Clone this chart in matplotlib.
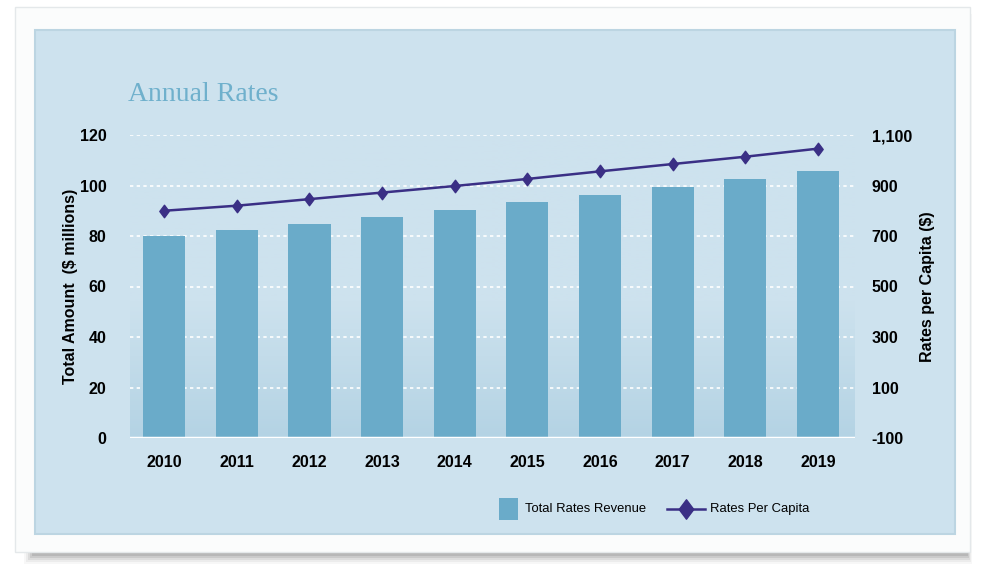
import matplotlib.pyplot as plt
import numpy as np
from matplotlib.lines import Line2D
from matplotlib.patches import Rectangle
from matplotlib.path import Path

years = ["2010", "2011", "2012", "2013", "2014", "2015", "2016", "2017", "2018", "2019"]
total_revenue = [80.0, 82.4, 84.8, 87.5, 90.3, 93.5, 96.2, 99.4, 102.6, 105.7]
per_capita = [800, 820, 846, 872, 898, 926, 956, 985, 1014, 1046]

left_ticks = [0, 20, 40, 60, 80, 100, 120]
right_ticks = [-100, 100, 300, 500, 700, 900, 1100]
right_labels = ["-100", "100", "300", "500", "700", "900", "1,100"]

PANEL = "#cde2ee"
BAR = "#6aabc9"
LINE = "#3a2f85"
TITLE = "#6fb0cc"

# slightly tall diamond
DIAMOND = Path([(0, 1), (0.75, 0), (0, -1), (-0.75, 0), (0, 1)],
               [Path.MOVETO, Path.LINETO, Path.LINETO, Path.LINETO, Path.CLOSEPOLY])

plt.rcParams["font.family"] = ["Liberation Sans", "DejaVu Sans"]

W, H = 982, 569
fig = plt.figure(figsize=(W / 100, H / 100), dpi=100)
fig.patch.set_facecolor("white")


def px(x0, y0, x1, y1):
    # pixel box (top-left origin) -> figure fraction rect
    return x0 / W, 1 - y1 / H, (x1 - x0) / W, (y1 - y0) / H


def fx(x):
    return x / W


def fy(y):
    return 1 - y / H


# card shadow and card
for i, a in enumerate([0.05, 0.08, 0.12, 0.16, 0.2]):
    x, y, w, h = px(24 + i * 2, 14 + i * 2, 972 - i, 564 - i * 2)
    fig.patches.append(Rectangle((x, y), w, h, transform=fig.transFigure,
                                 facecolor="#6e6e6e", alpha=a, edgecolor="none", zorder=0))
x, y, w, h = px(15, 7, 970, 552)
fig.patches.append(Rectangle((x, y), w, h, transform=fig.transFigure,
                             facecolor="#fbfcfc", edgecolor="#e4e8ea", lw=1, zorder=1))
x, y, w, h = px(35, 30, 955, 534)
fig.patches.append(Rectangle((x, y), w, h, transform=fig.transFigure,
                             facecolor=PANEL, edgecolor="#bcd5e2", lw=1.5, zorder=2))

ax = fig.add_axes(px(130, 135, 855, 438))
ax.set_facecolor("none")
ax.set_zorder(3)

# soft darker band towards the bottom of the plot area
grad = np.linspace(0, 1, 256).reshape(-1, 1)
grad = np.clip((grad - 0.55) / 0.45, 0, 1)
base = np.array([205, 226, 238]) / 255
dark = np.array([180, 211, 228]) / 255
img = base + (dark - base) * grad[..., None]
ax.imshow(img, extent=(-0.47, 9.51, 0, 120), aspect="auto", origin="upper", zorder=0)

xs = np.arange(len(years))
bars = ax.bar(xs, total_revenue, width=0.58, color=BAR, zorder=2)

for t in left_ticks[1:]:
    ax.axhline(t, color="white", lw=1.2, ls=(0, (2, 2)), zorder=1)
ax.axhline(0, color="white", lw=2.5, zorder=3)

ax.set_xlim(-0.47, 9.51)
ax.set_ylim(0, 120)
ax.set_yticks(left_ticks)
ax.set_yticklabels([str(t) for t in left_ticks], fontsize=11.5, fontweight="bold")
ax.set_xticks(xs)
ax.set_xticklabels(years, fontsize=11.5, fontweight="bold")
ax.tick_params(axis="y", length=0, pad=17)
ax.tick_params(axis="x", length=0, pad=12)
for s in ax.spines.values():
    s.set_visible(False)
ax.set_ylabel("Total Amount  ($ millions)", fontsize=11.5, fontweight="bold", labelpad=1)

ax2 = ax.twinx()
ax2.set_zorder(4)
line, = ax2.plot(xs, per_capita, color=LINE, lw=1.8, marker=DIAMOND, markersize=9, zorder=5)
ax2.set_ylim(-100, 1100)
ax2.set_yticks(right_ticks)
ax2.set_yticklabels(right_labels, fontsize=11.5, fontweight="bold")
ax2.tick_params(axis="y", length=0, pad=12)
for s in ax2.spines.values():
    s.set_visible(False)
ax2.set_ylabel("Rates per Capita ($)", fontsize=11.5, fontweight="bold", labelpad=6)

fig.text(fx(128), fy(101), "Annual Rates", fontsize=20, color=TITLE,
         family=["Liberation Serif", "DejaVu Serif"], va="baseline", ha="left", zorder=5)

# legend drawn by hand so the swatch and the line handle can differ in size
x, y, w, h = px(499, 498, 518, 520)
fig.patches.append(Rectangle((x, y), w, h, transform=fig.transFigure,
                             facecolor=BAR, edgecolor="none", zorder=5))
fig.text(fx(525), fy(509), "Total Rates Revenue", fontsize=9.4, va="center", ha="left", zorder=5)
fig.lines.append(Line2D([fx(667), fx(705)], [fy(509), fy(509)], transform=fig.transFigure,
                        color=LINE, lw=1.8, zorder=5))
fig.lines.append(Line2D([fx(686)], [fy(509)], transform=fig.transFigure, color=LINE,
                        marker=DIAMOND, markersize=14, lw=0, zorder=6))
fig.text(fx(710), fy(509), "Rates Per Capita", fontsize=9.4, va="center", ha="left", zorder=5)

fig.savefig("out.png", dpi=100)
